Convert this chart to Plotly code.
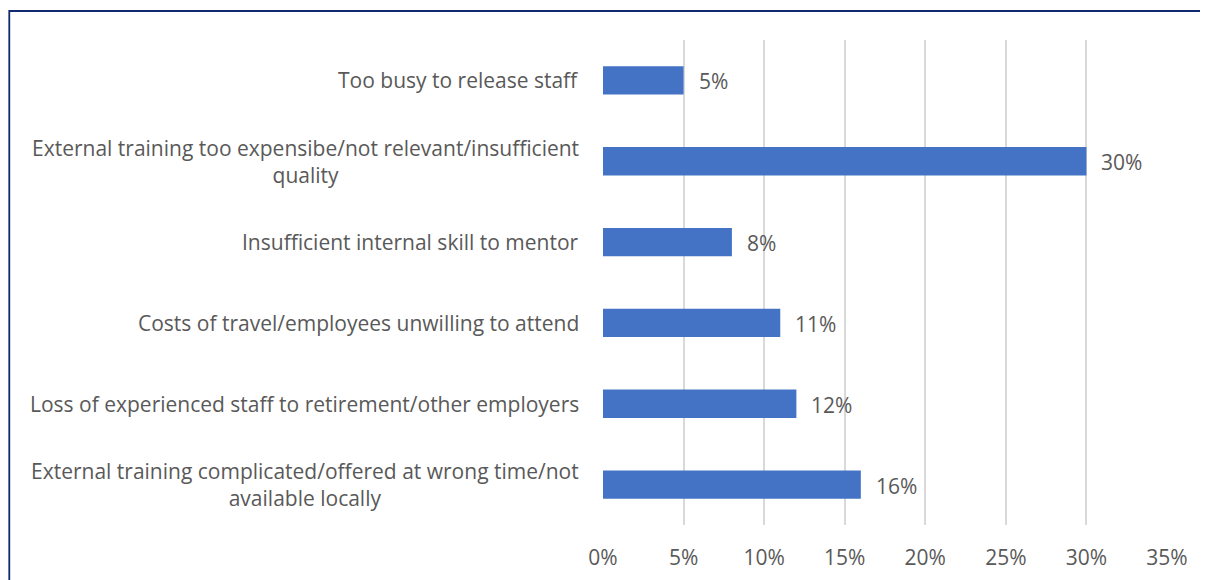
import plotly.graph_objects as go

categories = [
    "Too busy to release staff",
    "External training too expensibe/not relevant/insufficient<br>quality",
    "Insufficient internal skill to mentor",
    "Costs of travel/employees unwilling to attend",
    "Loss of experienced staff to retirement/other employers",
    "External training complicated/offered at wrong time/not<br>available locally",
]
values = [0.05, 0.30, 0.08, 0.11, 0.12, 0.16]
x_ticks = [0, 0.05, 0.10, 0.15, 0.20, 0.25, 0.30, 0.35]
x_tick_labels = ["0%", "5%", "10%", "15%", "20%", "25%", "30%", "35%"]

FONT = "Open Sans"
FS = 21
TXT = "#595959"
keys = [f"c{i}" for i in range(len(categories))]

fig = go.Figure(go.Bar(
    y=keys, x=values, orientation="h",
    marker=dict(color="#4472C4", line=dict(width=0)),
    width=0.35,
    hoverinfo="x+y",
))

# category labels (centered multi-line, right-aligned block)
for k, c in zip(keys, categories):
    fig.add_annotation(
        x=0, xref="paper", y=k, yref="y", text=c, showarrow=False,
        xanchor="right", align="center", xshift=-22,
        font=dict(family=FONT, size=FS, color=TXT),
    )

# data labels
for k, v in zip(keys, values):
    fig.add_annotation(
        x=v, xref="x", y=k, yref="y", text=f"{round(v*100)}%", showarrow=False,
        xanchor="left", xshift=13, yshift=-1,
        font=dict(family=FONT, size=FS, color=TXT),
    )

fig.add_shape(type="rect", xref="paper", yref="paper",
              x0=-1.0527, x1=1.2, y0=-0.3, y1=1.0598,
              line=dict(color="#0F2A6E", width=1.8), layer="below")

fig.update_layout(
    width=1208, height=580,
    margin=dict(l=595, r=49, t=32, b=63),
    paper_bgcolor="white", plot_bgcolor="white",
    showlegend=False,
    xaxis=dict(range=[0, 0.35], tickvals=x_ticks, ticktext=x_tick_labels,
               showgrid=True, gridcolor="#D9D9D9", gridwidth=1.5,
               zeroline=False, showline=False,
               ticks="outside", ticklen=14, tickcolor="rgba(0,0,0,0)",
               tickfont=dict(family=FONT, size=FS, color=TXT)),
    yaxis=dict(categoryorder="array", categoryarray=keys, autorange="reversed",
               showticklabels=False, showgrid=False, zeroline=False, showline=False),
)

fig.write_html("out.html")
